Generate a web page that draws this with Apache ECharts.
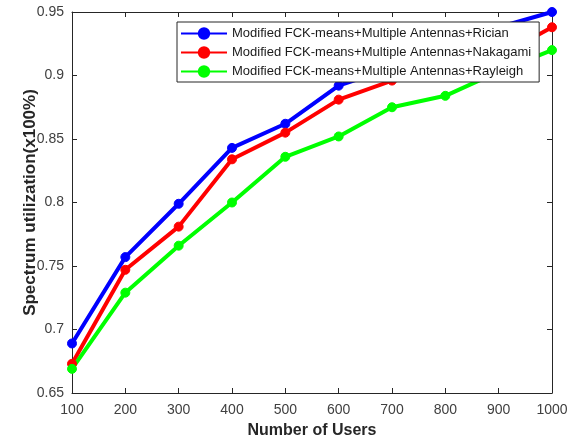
<!DOCTYPE html>
<html>
<head>
<meta charset="utf-8">
<script src="https://cdn.jsdelivr.net/npm/echarts@6/dist/echarts.min.js"></script>
<style>html,body{margin:0;padding:0;background:#fff;}#c{width:571px;height:441px;}</style>
</head>
<body>
<div id="c"></div>
<script>
const users = [100, 200, 300, 400, 500, 600, 700, 800, 900, 1000];
const rician = [0.689, 0.757, 0.799, 0.843, 0.862, 0.892, 0.906, 0.922, 0.938, 0.950];
const nakagami = [0.673, 0.747, 0.781, 0.834, 0.855, 0.881, 0.896, 0.905, 0.915, 0.938];
const rayleigh = [0.669, 0.729, 0.766, 0.800, 0.836, 0.852, 0.875, 0.884, 0.903, 0.920];
const names = [
  'Modified FCK-means+Multiple Antennas+Rician',
  'Modified FCK-means+Multiple Antennas+Nakagami',
  'Modified FCK-means+Multiple Antennas+Rayleigh'
];
const colors = ['#0000ff', '#ff0000', '#00ff00'];
const yTicks = ['0.65', '0.7', '0.75', '0.8', '0.85', '0.9', '0.95'];

const font = 'Liberation Sans, Arial, sans-serif';
const chart = echarts.init(document.getElementById('c'));
function mk(name, vals, color) {
  return {
    name: name,
    type: 'line',
    data: users.map((u, i) => [u, vals[i]]),
    symbol: 'circle',
    symbolSize: 9,
    lineStyle: { color: color, width: 4 },
    itemStyle: { color: color, borderColor: color, borderWidth: 1 },
    emphasis: { disabled: true },
    animation: false
  };
}
const axisLine = { show: true, lineStyle: { color: '#262626', width: 1 } };
chart.setOption({
  animation: false,
  grid: { left: 72, right: 19, top: 12, bottom: 48, containLabel: false, outerBoundsMode: 'none' },
  legend: {
    orient: 'vertical',
    left: 177,
    top: 22,
    padding: [5, 8, 4, 3],
    itemWidth: 46,
    itemHeight: 13,
    itemGap: 6,
    backgroundColor: '#fff',
    borderColor: '#262626',
    borderWidth: 1,
    textStyle: { fontFamily: font, fontSize: 13, color: '#1a1a1a' },
    data: names
  },
  xAxis: [{
    type: 'value', min: 100, max: 1000, interval: 100,
    name: 'Number of Users', nameLocation: 'middle', nameGap: 30, nameMoveOverlap: false,
    nameTextStyle: { fontFamily: font, fontSize: 16, fontWeight: 'bold', color: '#262626' },
    axisLine: axisLine,
    axisTick: { inside: true, length: 5, lineStyle: { color: '#262626' } },
    axisLabel: { fontFamily: font, fontSize: 14, color: '#404040', margin: 10,
      formatter: function (v) { return String(v); } },
    splitLine: { show: false }
  }, {
    type: 'value', min: 100, max: 1000, interval: 100, position: 'top',
    axisLine: axisLine,
    axisTick: { inside: true, length: 5, lineStyle: { color: '#262626' } },
    axisLabel: { show: false }, splitLine: { show: false }
  }],
  yAxis: [{
    type: 'value', min: 0.65, max: 0.95, interval: 0.05,
    name: 'Spectrum utilization(x100%)', nameLocation: 'middle', nameGap: 33, nameMoveOverlap: false,
    nameTextStyle: { fontFamily: font, fontSize: 17, fontWeight: 'bold', color: '#262626' },
    axisLine: axisLine,
    axisTick: { inside: true, length: 5, lineStyle: { color: '#262626' } },
    axisLabel: { fontFamily: font, fontSize: 14, color: '#404040', margin: 8,
      formatter: function (v) { return yTicks[Math.round((v - 0.65) / 0.05)]; } },
    splitLine: { show: false }
  }, {
    type: 'value', min: 0.65, max: 0.95, interval: 0.05, position: 'right',
    axisLine: axisLine,
    axisTick: { inside: true, length: 5, lineStyle: { color: '#262626' } },
    axisLabel: { show: false }, splitLine: { show: false }
  }],
  series: [
    mk(names[0], rician, colors[0]),
    mk(names[1], nakagami, colors[1]),
    mk(names[2], rayleigh, colors[2])
  ]
});
</script>
</body>
</html>
